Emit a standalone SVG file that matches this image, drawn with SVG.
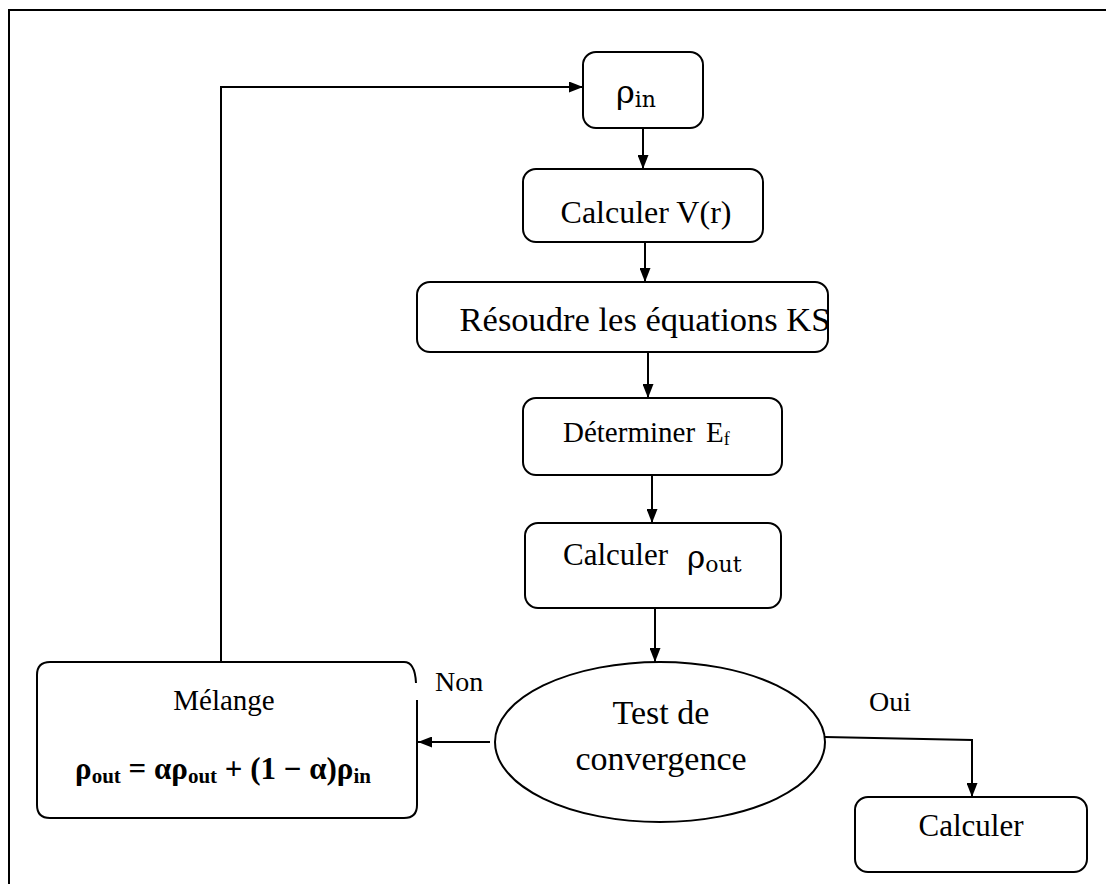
<svg xmlns="http://www.w3.org/2000/svg" width="1106" height="884" viewBox="0 0 1106 884">
<style>
.box{fill:#fff;stroke:#000;stroke-width:2}
.ln{fill:none;stroke:#000;stroke-width:2}
.t{font-family:"Liberation Serif","Times New Roman",serif;fill:#000}
.m{font-family:"DejaVu Serif","Liberation Serif",serif;fill:#000}
</style>
<defs>
<marker id="ah" viewBox="0 0 14 11" refX="14" refY="5.5" markerWidth="14" markerHeight="11" markerUnits="userSpaceOnUse" orient="auto">
<path d="M0,0 L14,5.5 L0,11 Z" fill="#000"/>
</marker>
</defs>
<rect width="1106" height="884" fill="#fff"/>
<path class="ln" d="M9,884 V10 H1106"/>
<g id="connectors">
<path class="ln" d="M221,662 V87 H583" marker-end="url(#ah)"/>
<path class="ln" d="M643,128 V169" marker-end="url(#ah)"/>
<path class="ln" d="M645,242 V282" marker-end="url(#ah)"/>
<path class="ln" d="M648,352 V398" marker-end="url(#ah)"/>
<path class="ln" d="M652,475 V523" marker-end="url(#ah)"/>
<path class="ln" d="M655,608 V662" marker-end="url(#ah)"/>
<path class="ln" d="M490,742 H418" marker-end="url(#ah)"/>
<path class="ln" d="M825,737 L972,740 V797" marker-end="url(#ah)"/>
</g>
<g id="rho_in">
<rect class="box" x="583" y="52" width="120" height="76" rx="13"/>
<text class="m" x="616" y="103" font-size="32">ρ<tspan font-size="22" dy="4">in</tspan></text>
</g>
<g id="calc_v">
<rect class="box" x="523" y="169" width="240" height="73" rx="13"/>
<text class="t" x="646" y="223" font-size="32" text-anchor="middle">Calculer V(r)</text>
</g>
<g id="resoudre">
<rect class="box" x="417" y="282" width="411" height="70" rx="13"/>
<text class="t" x="645" y="331" font-size="34.5" text-anchor="middle">Résoudre les équations KS</text>
</g>
<g id="determiner">
<rect class="box" x="523" y="398" width="259" height="77" rx="13"/>
<text class="t" x="563" y="442" font-size="29">Déterminer</text>
<text class="t" x="706" y="442" font-size="29">E<tspan font-size="18" dy="3">f</tspan></text>
</g>
<g id="calc_rho_out">
<rect class="box" x="525" y="523" width="256" height="85" rx="13"/>
<text class="t" x="563" y="565" font-size="31">Calculer</text>
<text class="m" x="687" y="568" font-size="31">ρ<tspan font-size="22" dy="4">out</tspan></text>
</g>
<g id="test">
<ellipse class="box" cx="660" cy="742" rx="165" ry="80"/>
<text class="t" x="661" y="724" font-size="34" text-anchor="middle">Test de</text>
<text class="t" x="661" y="770" font-size="34" text-anchor="middle">convergence</text>
</g>
<g id="melange">
<path class="box" d="M417,700 V805 Q417,818 404,818 H50 Q37,818 37,805 V675 Q37,662 50,662 H404 Q415,662 416,683"/>
<text class="t" x="224" y="710" font-size="29" text-anchor="middle">Mélange</text>
<text class="t" x="223" y="779" font-size="31" font-weight="bold" text-anchor="middle">ρ<tspan font-size="21" dy="4">out</tspan><tspan dy="-4"> = αρ</tspan><tspan font-size="21" dy="4">out</tspan><tspan dy="-4"> + (1 − α)ρ</tspan><tspan font-size="21" dy="4">in</tspan></text>
</g>
<g id="calc_final">
<rect class="box" x="855" y="797" width="232" height="75" rx="13"/>
<text class="t" x="971" y="836" font-size="31" text-anchor="middle">Calculer</text>
</g>
<g id="labels">
<text class="t" x="435" y="691" font-size="28">Non</text>
<text class="t" x="869" y="711" font-size="28">Oui</text>
</g>
</svg>
